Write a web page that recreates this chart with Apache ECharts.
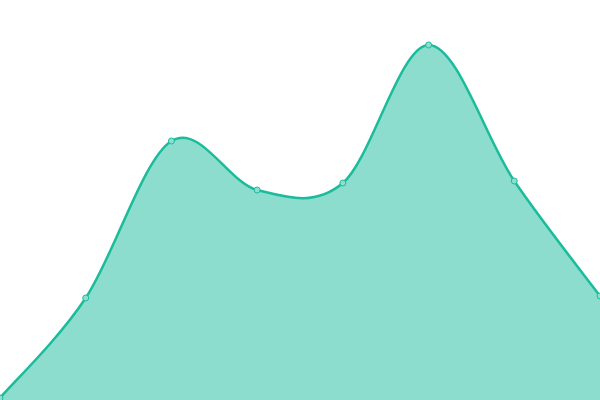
<!DOCTYPE html>
<html>
<head>
<meta charset="utf-8">
<title>Area</title>
<script src="https://cdn.jsdelivr.net/npm/echarts@6/dist/echarts.min.js"></script>
<style>
  html, body { margin: 0; padding: 0; background: #fff; }
  #chart { width: 600px; height: 400px; }
</style>
</head>
<body>
<div id="chart"></div>
<script>
// data
const categories = ['A', 'B', 'C', 'D', 'E', 'F', 'G', 'H']
const values = [2, 102, 259, 210, 217, 355, 219, 104]
const yMin = 0
const yMax = 400

const lineColor = '#1abc9c'

// catmull-rom curve through the points (the plain line series clamps its curve)
function splinePath(pts) {
  let d = 'M' + pts[0][0] + ' ' + pts[0][1]
  for (let i = 0; i < pts.length - 1; i++) {
    const p0 = pts[i - 1] || pts[i]
    const p1 = pts[i]
    const p2 = pts[i + 1]
    const p3 = pts[i + 2] || pts[i + 1]
    const c1x = p1[0] + (p2[0] - p0[0]) / 6
    const c1y = p1[1] + (p2[1] - p0[1]) / 6
    const c2x = p2[0] - (p3[0] - p1[0]) / 6
    const c2y = p2[1] - (p3[1] - p1[1]) / 6
    d += ' C' + c1x + ' ' + c1y + ' ' + c2x + ' ' + c2y + ' ' + p2[0] + ' ' + p2[1]
  }
  return d
}

function renderCurve(params, api) {
  if (params.dataIndex !== 0) {
    return null
  }
  const pts = values.map((v, i) => api.coord([i, v]))
  const base = api.coord([0, yMin])[1]
  const top = splinePath(pts)
  const last = pts[pts.length - 1]
  const area = top + ' L' + last[0] + ' ' + base + ' L' + pts[0][0] + ' ' + base + ' Z'
  return {
    type: 'group',
    children: [
      {
        type: 'path',
        shape: { pathData: area },
        style: { fill: lineColor, opacity: 0.5, stroke: null }
      },
      {
        type: 'path',
        shape: { pathData: top },
        style: { fill: null, stroke: lineColor, lineWidth: 2.5 }
      }
    ]
  }
}

const chart = echarts.init(document.getElementById('chart'))
chart.setOption({
  animation: false,
  grid: { left: 0, right: 0, top: 0, bottom: 0 },
  xAxis: {
    type: 'category',
    data: categories,
    boundaryGap: false,
    show: false
  },
  yAxis: {
    type: 'value',
    min: yMin,
    max: yMax,
    show: false
  },
  series: [
    {
      type: 'custom',
      data: values.map((v, i) => [i, v]),
      encode: { x: 0, y: 1 },
      renderItem: renderCurve,
      clip: true,
      z: 1
    },
    {
      type: 'line',
      data: values,
      symbol: 'circle',
      symbolSize: 6,
      itemStyle: { color: '#8cdecf', borderColor: lineColor, borderWidth: 1 },
      lineStyle: { width: 0, opacity: 0 },
      z: 2
    }
  ]
})
window.addEventListener('resize', () => {
  chart.resize()
})
</script>
</body>
</html>
